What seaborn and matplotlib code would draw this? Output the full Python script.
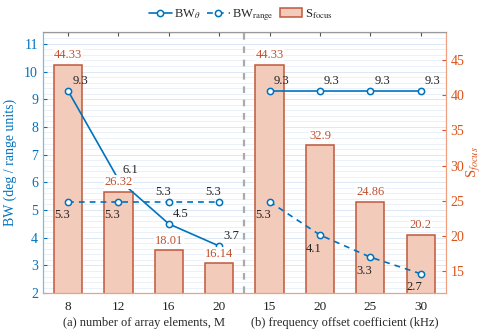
import numpy as np
import pandas as pd
import matplotlib
matplotlib.use('Agg')
import matplotlib.pyplot as plt
import matplotlib.transforms as mtransforms
import seaborn as sns

# data
groups = ['a', 'a', 'a', 'a', 'b', 'b', 'b', 'b']
tick_labels = ['8', '12', '16', '20', '15', '20', '25', '30']
bw_theta = [9.3, 6.1, 4.5, 3.7, 9.3, 9.3, 9.3, 9.3]
bw_range = [5.3, 5.3, 5.3, 5.3, 5.3, 4.1, 3.3, 2.7]
s_focus = [44.33, 26.32, 18.01, 16.14, 44.33, 32.9, 24.86, 20.2]
s_labels = ['44.33', '26.32', '18.01', '16.14', '44.33', '32.9', '24.86', '20.2']

# label offsets in points (style only)
theta_off = [(3, 5)] * 8
range_off = [(-10, -12), (-10, -12), (-10, 5), (-10, 5), (-10, -12), (-10, -12), (-10, -12), (-10, -12)]

df = pd.DataFrame({'pos': np.arange(len(tick_labels)), 'group': groups,
                   'bw_theta': bw_theta, 'bw_range': bw_range, 's_focus': s_focus})

sns.set_style('white')
plt.rcParams['font.family'] = ['Liberation Serif', 'DejaVu Serif']
plt.rcParams['mathtext.fontset'] = 'stix'

blue = '#0072BD'
orange = '#D95319'
bar_face = '#F3CBBB'
bar_edge = '#C0583A'
lbl_red = '#C0502E'

fig = plt.figure(figsize=(4.82, 3.29), dpi=100)
ax = fig.add_axes([0.089, 0.109, 0.836, 0.794])
ax2 = ax.twinx()
ax.set_zorder(2)
ax2.set_zorder(1)
ax.patch.set_visible(False)

ax.set_xlim(-0.5, 7.5)
ax.set_ylim(2, 11.43)
ax2.set_ylim(11.9, 49)

# background grid (left-axis units) drawn in the lower axes, under the bars
tr = mtransforms.blended_transform_factory(ax2.transAxes, ax.transData)
for yv in np.arange(2, 11.43, 0.2):
    major = abs(yv - round(yv)) < 1e-6
    ax2.plot([0, 1], [yv, yv], transform=tr, color='#DCE8F5' if major else '#EAF1F9',
             lw=0.7, zorder=0.1)
ax2.grid(axis='x', color='#E0E0E0', lw=0.8)
ax2.set_axisbelow(True)

# bars on right axis
sns.barplot(data=df, x='pos', y='s_focus', native_scale=True, ax=ax2, width=0.56,
            color=bar_face, edgecolor=bar_edge, linewidth=1.1, saturation=1, label='S$_{\\mathrm{focus}}$')
if ax2.get_legend() is not None:
    ax2.get_legend().remove()

# lines on left axis, one segment per group
for i, g in enumerate(['a', 'b']):
    d = df[df.group == g]
    sns.lineplot(data=d, x='pos', y='bw_theta', ax=ax, color=blue, lw=1.2, marker='o',
                 markersize=4.5, markerfacecolor='white', markeredgecolor=blue, markeredgewidth=1.1,
                 label='BW$_{\\theta}$' if i == 0 else None, legend=False)
    sns.lineplot(data=d, x='pos', y='bw_range', ax=ax, color=blue, lw=1.2, marker='o',
                 markersize=4.5, markerfacecolor='white', markeredgecolor=blue, markeredgewidth=1.1,
                 linestyle=(0, (3.5, 3)), label='BW$_{\\mathrm{range}}$' if i == 0 else None, legend=False)

for i in range(len(tick_labels)):
    ax.annotate(f'{bw_theta[i]}', (i, bw_theta[i]), xytext=theta_off[i], textcoords='offset points',
                fontsize=9, color='#222222')
    ax.annotate(f'{bw_range[i]}', (i, bw_range[i]), xytext=range_off[i], textcoords='offset points',
                fontsize=9, color='#222222')
    ax.text(i, s_focus[i] + 0.5, s_labels[i], transform=ax2.transData, ha='center', va='bottom',
            fontsize=9, color=lbl_red, zorder=5,
            bbox=dict(facecolor='white', edgecolor='none', pad=0.5))

# separator
ax.axvline(3.5, color='#AAAAAA', lw=1.6, ls=(0, (3, 3)), zorder=1)

ax.set_xlim(-0.5, 7.5)
ax.set_ylim(2, 11.43)
ax2.set_ylim(11.9, 49)
ax.set_xticks(range(len(tick_labels)))
ax.set_xticklabels(tick_labels, fontsize=9.5)
ax.set_yticks(range(2, 12))
ax2.set_yticks(range(15, 50, 5))
ax.tick_params(axis='y', colors=blue, labelsize=10, direction='in', length=3)
ax2.tick_params(axis='y', colors=orange, labelsize=10, direction='in', length=3)
ax.tick_params(axis='x', direction='in', length=3, top=True, colors='#555555', labelcolor='#222222', pad=6)
ax2.tick_params(axis='x', length=0)

ax.set_xlabel('')
ax.set_ylabel('BW (deg / range units)', color=blue, fontsize=10)
ax.yaxis.set_label_coords(-0.065, 0.5)
ax2.set_xlabel('')
ax2.set_ylabel('S$_{focus}$', color=orange, fontsize=10.5)
ax2.yaxis.set_label_coords(1.048, 0.5)

for a in (ax, ax2):
    a.spines['left'].set_color('#7FB8E0')
    a.spines['right'].set_color('#F0A080')
    a.spines['top'].set_color('#999999')
    a.spines['bottom'].set_color('#F0A080')

ax.text(1.5, -0.116, '(a) number of array elements, M', transform=ax.get_xaxis_transform(),
        ha='center', va='center', fontsize=9)
ax.text(5.5, -0.116, '(b) frequency offset coefficient (kHz)', transform=ax.get_xaxis_transform(),
        ha='center', va='center', fontsize=9)

h1, l1 = ax.get_legend_handles_labels()
h2, l2 = ax2.get_legend_handles_labels()
fig.legend(h1 + h2, l1 + l2, loc='center', bbox_to_anchor=(0.5, 0.955), ncol=3, frameon=False,
           fontsize=9, handlelength=1.8, handletextpad=0.2, columnspacing=0.5)

fig.savefig('out.png', dpi=100)
